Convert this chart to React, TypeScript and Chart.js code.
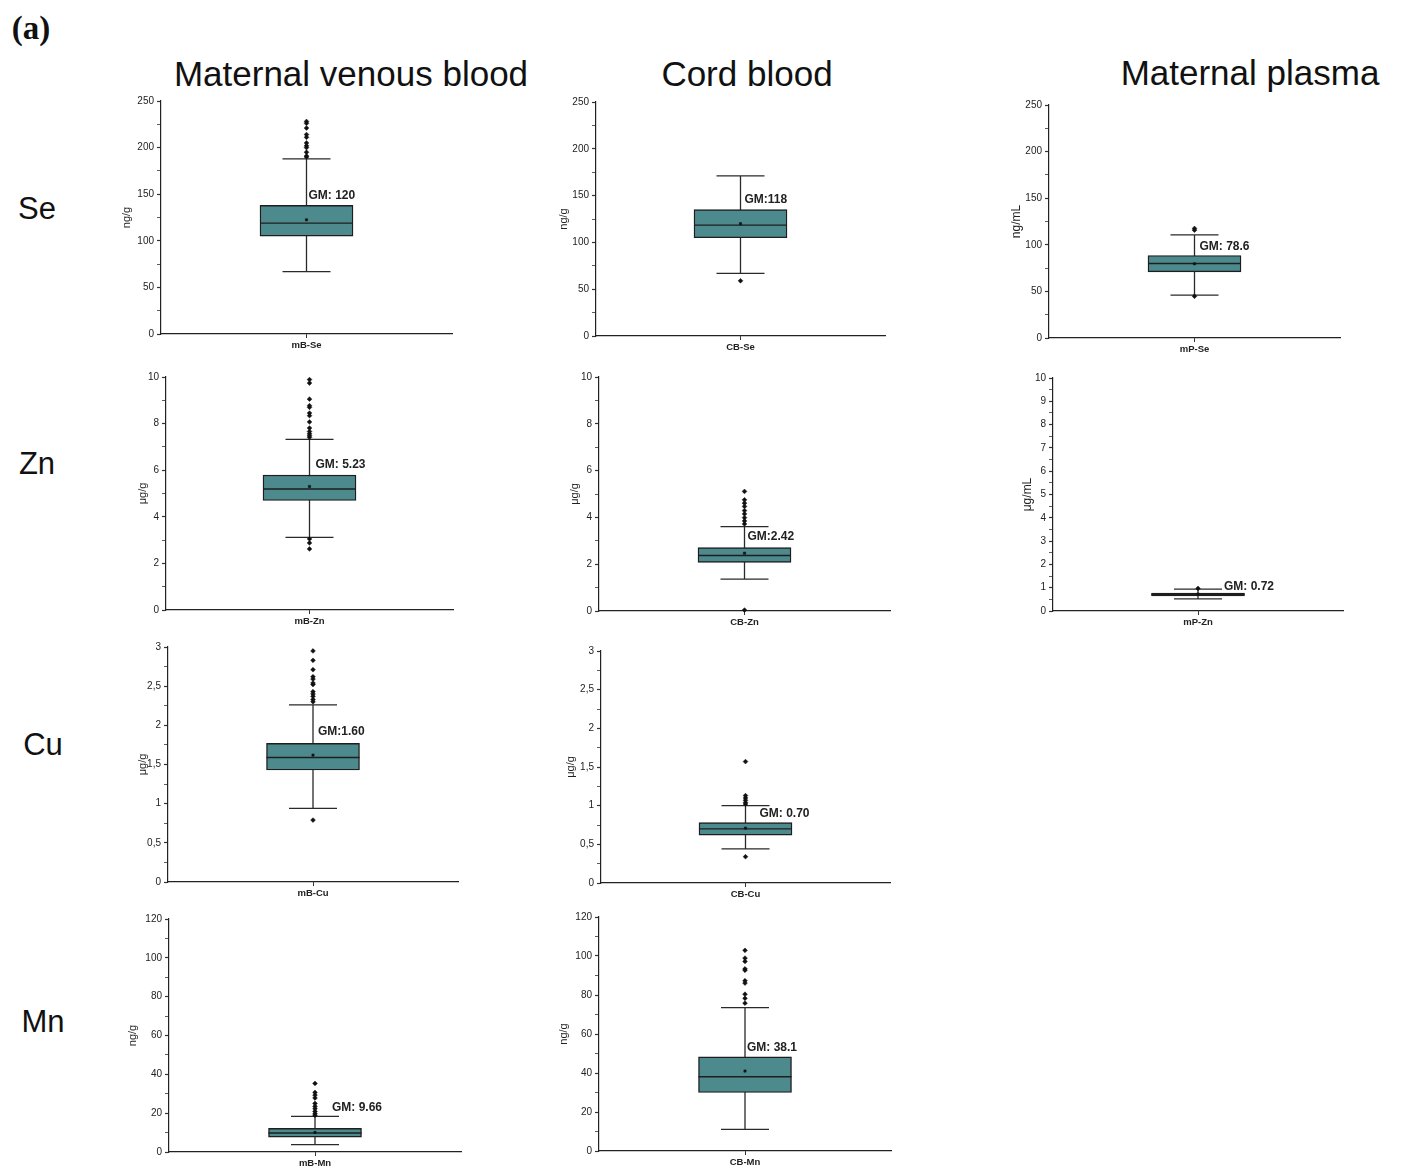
import React, { useEffect, useRef } from 'react';
import { Chart, registerables } from 'chart.js';

Chart.register(...registerables);

// ---------------- data ----------------
const categories = ['mB-Se', 'CB-Se', 'mP-Se', 'mB-Zn', 'CB-Zn', 'mP-Zn', 'mB-Cu', 'CB-Cu', 'mB-Mn', 'CB-Mn'];
const units = ['ng/g', 'ng/g', 'ng/mL', 'μg/g', 'μg/g', 'μg/mL', 'μg/g', 'μg/g', 'ng/g', 'ng/g'];
const q1Values = [105, 105, 71, 4.7, 2.08, 0.65, 1.43, 0.62, 7.7, 30.0];
const medianValues = [119, 118.5, 80, 5.19, 2.37, 0.71, 1.59, 0.70, 9.8, 38.1];
const q3Values = [138, 135, 88.5, 5.79, 2.71, 0.77, 1.77, 0.78, 12.2, 48.3];
const whiskerLow = [67, 67, 46, 3.12, 1.36, 0.52, 0.94, 0.44, 3.8, 11.1];
const whiskerHigh = [188, 171, 110.7, 7.32, 3.61, 0.94, 2.26, 1.0, 18.3, 73.5];
const meanValues = [122.5, 120, 79.6, 5.3, 2.47, 0.73, 1.62, 0.71, 10.1, 41.0];
const gmLabels = ['GM: 120', 'GM:118', 'GM: 78.6', 'GM: 5.23', 'GM:2.42', 'GM: 0.72', 'GM:1.60', 'GM: 0.70', 'GM: 9.66', 'GM: 38.1'];
const outliers = [
  [190, 191, 195, 200, 202, 205, 211, 214, 221, 226, 228],
  [59],
  [44.8, 115.7, 117.5],
  [2.62, 2.88, 3.05, 7.41, 7.48, 7.56, 7.66, 7.81, 8.07, 8.34, 8.45, 8.7, 8.77, 9.05, 9.74, 9.89],
  [0.04, 3.72, 3.85, 3.99, 4.15, 4.29, 4.47, 4.61, 4.75, 5.11],
  [0.97],
  [0.79, 2.3, 2.33, 2.37, 2.4, 2.43, 2.52, 2.54, 2.59, 2.62, 2.71, 2.83, 2.95],
  [0.34, 1.02, 1.04, 1.07, 1.1, 1.13, 1.57],
  [18.9, 19.7, 20.9, 22.3, 23.5, 25.0, 27.8, 29.3, 30.7, 35.3],
  [75.8, 78.3, 80.4, 86.1, 87.3, 92.7, 93.4, 97.2, 98.9, 102.9],
];
const yMaxValues = [250, 250, 250, 10, 10, 10, 3, 3, 120, 120];
const minorSteps = [25, 25, 25, 1, 1, 0.5, 0.25, 0.25, 10, 10];
const majorSteps = [50, 50, 50, 2, 2, 1, 0.5, 0.5, 20, 20];
const commaDecimal = [false, false, false, false, false, false, true, true, false, false];
const gmLabelY = [148, 146, 97.6, 6.22, 3.16, 1.03, 1.915, 0.89, 22.7, 52.8];

const columnTitles = ['Maternal venous blood', 'Cord blood', 'Maternal plasma'];
const rowTitles = ['Se', 'Zn', 'Cu', 'Mn'];

// ---------------- layout ----------------
const LAYOUT = [
  { axisX: 161, topY: 101, zeroY: 334, rightX: 452, titleGap: 34, gmDx: 2, titleSize: 11 },
  { axisX: 596, topY: 102, zeroY: 336, rightX: 885, titleGap: 32, gmDx: 4, titleSize: 11 },
  { axisX: 1049, topY: 105, zeroY: 338, rightX: 1340, titleGap: 33, gmDx: 5, titleSize: 12 },
  { axisX: 166, topY: 377, zeroY: 610, rightX: 453, titleGap: 23, gmDx: 6, titleSize: 11 },
  { axisX: 599, topY: 377, zeroY: 611, rightX: 890, titleGap: 24, gmDx: 3, titleSize: 11 },
  { axisX: 1053, topY: 378, zeroY: 611, rightX: 1343, titleGap: 26, gmDx: 26, titleSize: 12 },
  { axisX: 168, topY: 647, zeroY: 882, rightX: 458, titleGap: 25, gmDx: 5, titleSize: 11 },
  { axisX: 601, topY: 651, zeroY: 883, rightX: 890, titleGap: 30, gmDx: 14, titleSize: 11 },
  { axisX: 169, topY: 919, zeroY: 1152, rightX: 461, titleGap: 36, gmDx: 17, titleSize: 11 },
  { axisX: 599, topY: 917, zeroY: 1151, rightX: 891, titleGap: 35, gmDx: 2, titleSize: 11 },
];
const COL_TITLE_POS = [
  { x: 351, y: 73 },
  { x: 747, y: 73 },
  { x: 1250, y: 72 },
];
const ROW_TITLE_POS = [
  { x: 37, y: 208 },
  { x: 37, y: 463 },
  { x: 43, y: 744 },
  { x: 43, y: 1021 },
];

const FONT = "'Liberation Sans', Arial, Helvetica, sans-serif";
const TEAL = '#4d8a8e';
const DARK = '#222222';
const PAD_T = 14;
const PAD_R = 10;
const XH = 26;
const BOX_W = 93;
const CAP_HALF = 24;

function Panel({ i }: { i: number }) {
  const ref = useRef<HTMLCanvasElement | null>(null);
  const L = LAYOUT[i];
  const titleLine = L.titleSize * 1.2;
  const yw = Math.round(L.titleGap + titleLine / 2 + 4);
  const width = yw + (L.rightX - L.axisX) + PAD_R;
  const height = PAD_T + (L.zeroY - L.topY) + XH;

  useEffect(() => {
    const canvas = ref.current;
    if (!canvas) return;
    const cat = categories[i];
    const major = majorSteps[i];
    const fmt = (v: number) => {
      const s = String(Math.round(v * 1000) / 1000);
      return commaDecimal[i] ? s.replace('.', ',') : s;
    };
    const isMajor = (v: number) => Math.abs(v / major - Math.round(v / major)) < 1e-6;

    const boxPlugin = {
      id: 'boxExtras' + i,
      beforeDatasetsDraw(chart: any) {
        const { ctx, scales } = chart;
        const x = scales.x.getPixelForValue(0);
        const yLo = scales.y.getPixelForValue(whiskerLow[i]);
        const yHi = scales.y.getPixelForValue(whiskerHigh[i]);
        ctx.save();
        ctx.strokeStyle = '#2a2a2a';
        ctx.lineWidth = 1.3;
        ctx.beginPath();
        ctx.moveTo(x, yLo);
        ctx.lineTo(x, yHi);
        ctx.moveTo(x - CAP_HALF, yLo);
        ctx.lineTo(x + CAP_HALF, yLo);
        ctx.moveTo(x - CAP_HALF, yHi);
        ctx.lineTo(x + CAP_HALF, yHi);
        ctx.stroke();
        ctx.restore();
      },
      afterDatasetDraw(chart: any, args: any) {
        if (args.index !== 0) return;
        const { ctx, scales } = chart;
        const x = scales.x.getPixelForValue(0);
        const ym = scales.y.getPixelForValue(medianValues[i]);
        ctx.save();
        ctx.strokeStyle = '#1e1e1e';
        ctx.lineWidth = 1.4;
        ctx.beginPath();
        ctx.moveTo(x - BOX_W / 2, ym);
        ctx.lineTo(x + BOX_W / 2, ym);
        ctx.stroke();
        ctx.restore();
      },
      afterDraw(chart: any) {
        const { ctx, scales } = chart;
        const x = scales.x.getPixelForValue(0);
        const y = scales.y.getPixelForValue(gmLabelY[i]);
        ctx.save();
        ctx.font = `bold 12px ${FONT}`;
        ctx.fillStyle = DARK;
        ctx.textAlign = 'left';
        ctx.textBaseline = 'middle';
        ctx.fillText(gmLabels[i], x + LAYOUT[i].gmDx, y);
        ctx.restore();
      },
    };

    const chart = new Chart(canvas, {
      type: 'bar',
      data: {
        labels: [cat],
        datasets: [
          {
            type: 'bar',
            data: [[q1Values[i], q3Values[i]]] as any,
            backgroundColor: TEAL,
            borderColor: '#1e1e1e',
            borderWidth: 1.4,
            borderSkipped: false,
            barThickness: BOX_W,
            order: 2,
          } as any,
          {
            type: 'scatter',
            data: outliers[i].map((v) => ({ x: cat, y: v })) as any,
            pointStyle: 'rectRot',
            pointRadius: 2.4,
            backgroundColor: '#111',
            borderColor: '#111',
            borderWidth: 0.5,
            clip: false,
            order: 1,
          } as any,
          {
            type: 'scatter',
            data: [{ x: cat, y: meanValues[i] }] as any,
            pointStyle: 'rect',
            pointRadius: 1.6,
            backgroundColor: '#111',
            borderColor: '#111',
            borderWidth: 0.5,
            clip: false,
            order: 0,
          } as any,
        ],
      },
      options: {
        animation: false,
        responsive: false,
        devicePixelRatio: 1,
        layout: { padding: { top: PAD_T, right: PAD_R, left: 0, bottom: 0 } },
        plugins: { legend: { display: false }, tooltip: { enabled: false } },
        scales: {
          x: {
            type: 'category',
            offset: true,
            grid: {
              display: true,
              drawOnChartArea: false,
              drawTicks: true,
              tickLength: 4,
              offset: false,
              color: '#333',
            },
            border: { display: true, color: DARK, width: 1.2 },
            ticks: {
              font: { family: FONT, size: 9.5, weight: 'bold' },
              color: DARK,
              padding: 2,
              maxRotation: 0,
            },
            afterFit: (s: any) => {
              s.height = XH;
            },
          } as any,
          y: {
            type: 'linear',
            min: 0,
            max: yMaxValues[i],
            ticks: {
              stepSize: minorSteps[i],
              autoSkip: false,
              font: { family: FONT, size: 10 },
              color: DARK,
              padding: 3,
              callback: (v: any) => (isMajor(Number(v)) ? fmt(Number(v)) : ''),
            },
            grid: {
              display: true,
              drawOnChartArea: false,
              drawTicks: true,
              tickLength: 4,
              color: '#333',
              tickWidth: (c: any) => (isMajor(Number(c.tick?.value)) ? 1.2 : 0.8),
            },
            border: { display: true, color: DARK, width: 1.2 },
            title: {
              display: true,
              text: units[i],
              font: { family: FONT, size: L.titleSize },
              color: DARK,
              padding: { top: 4, bottom: 4 },
            },
            afterFit: (s: any) => {
              s.width = yw;
            },
          } as any,
        },
      },
      plugins: [boxPlugin],
    });
    return () => chart.destroy();
  }, []);

  return (
    <canvas
      ref={ref}
      width={width}
      height={height}
      style={{ position: 'absolute', left: L.axisX - yw, top: L.topY - PAD_T, width, height }}
    />
  );
}

function Label({ text, x, y, size, family, weight }: any) {
  return (
    <div
      style={{
        position: 'absolute',
        left: x,
        top: y,
        transform: 'translate(-50%, -50%)',
        fontFamily: family,
        fontSize: size,
        fontWeight: weight || 'normal',
        color: '#111',
        whiteSpace: 'nowrap',
        lineHeight: 1,
      }}
    >
      {text}
    </div>
  );
}

export default function App() {
  return (
    <div
      style={{
        position: 'absolute',
        left: 0,
        top: 0,
        width: 1401,
        height: 1168,
        background: '#ffffff',
        overflow: 'hidden',
      }}
    >
      <Label text="(a)" x={31} y={28} size={33} family="'Liberation Serif', 'Times New Roman', serif" weight="bold" />
      {columnTitles.map((t, k) => (
        <Label key={'c' + k} text={t} x={COL_TITLE_POS[k].x} y={COL_TITLE_POS[k].y} size={35} family={FONT} />
      ))}
      {rowTitles.map((t, k) => (
        <Label key={'r' + k} text={t} x={ROW_TITLE_POS[k].x} y={ROW_TITLE_POS[k].y} size={31} family={FONT} />
      ))}
      {categories.map((_, k) => (
        <Panel key={k} i={k} />
      ))}
    </div>
  );
}
